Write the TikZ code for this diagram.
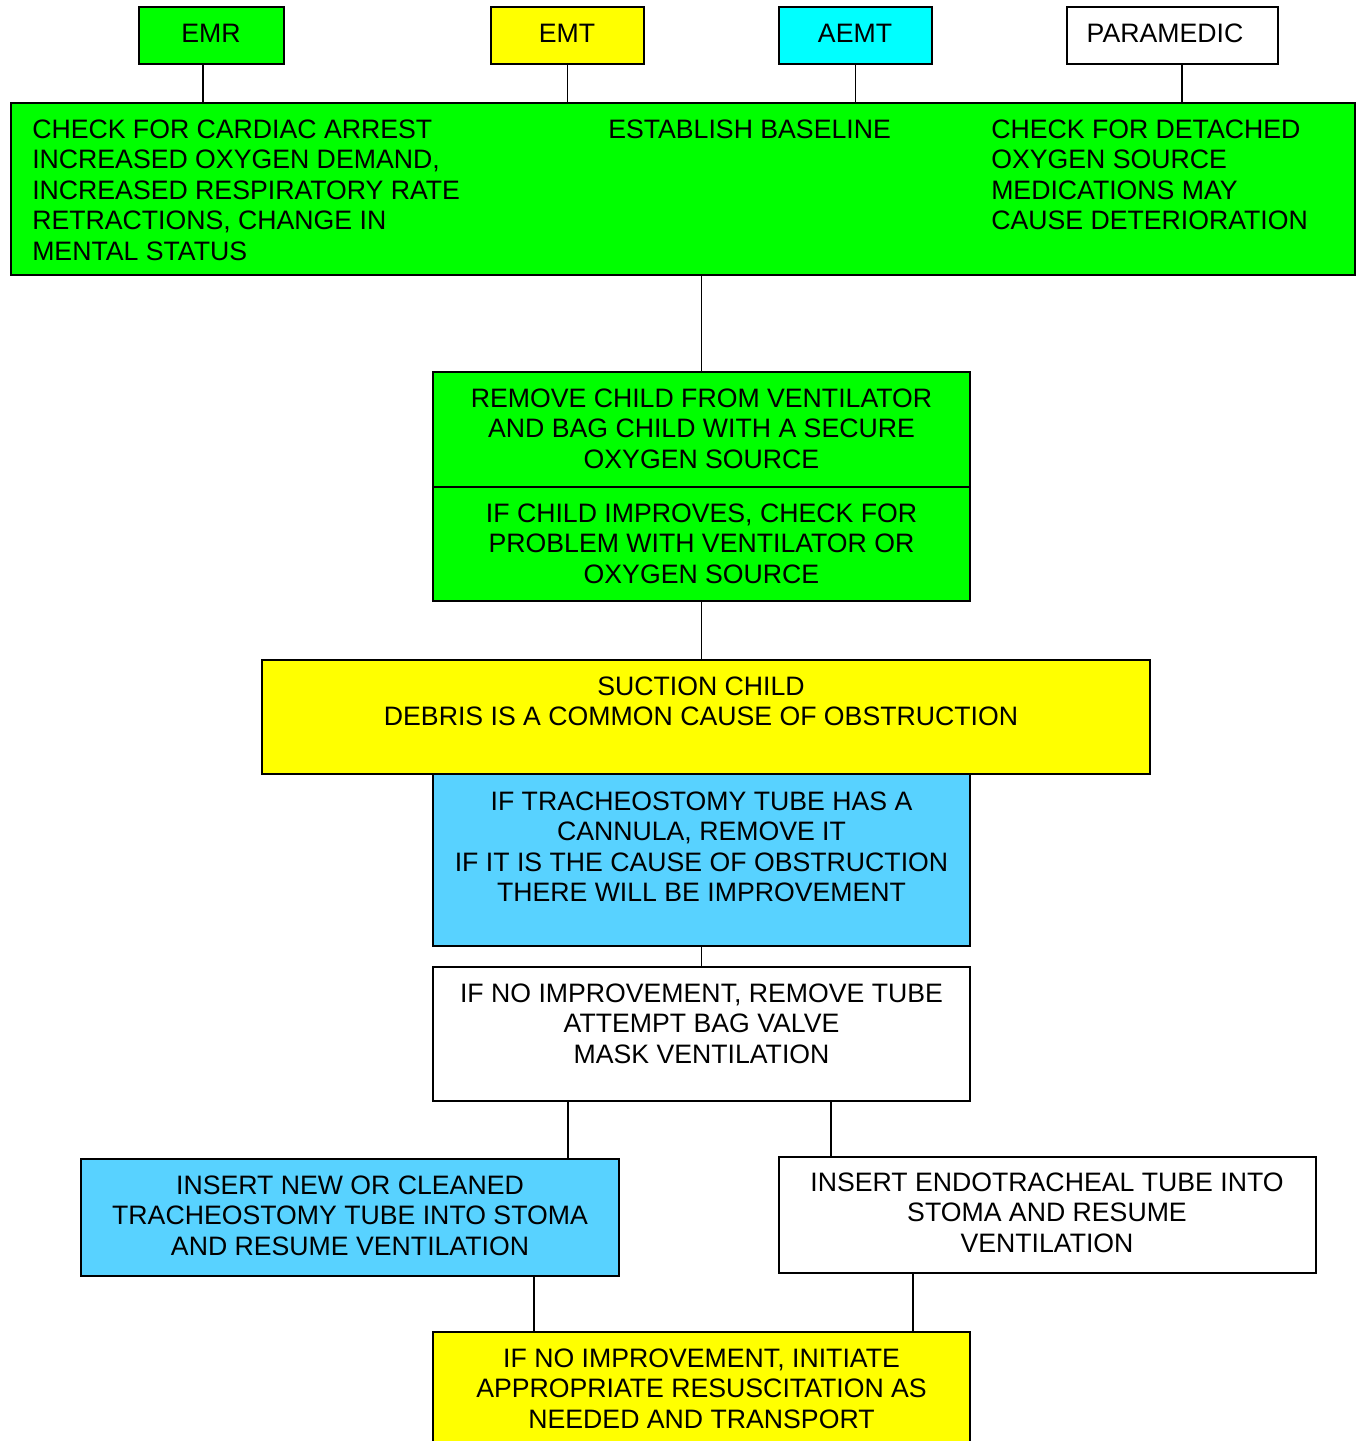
\documentclass[tikz,border=0pt]{standalone}
\usepackage{fontspec}
\setmainfont{Liberation Sans}
\usepackage{tikz}
\usetikzlibrary{fit}
\newcommand{\flowfont}{\fontsize{20.0}{22.9}\selectfont}
\newcommand{\boxrule}{1.2pt}
\newcommand{\linkrule}{0.9pt}
\definecolor{emrgreen}{RGB}{0,255,0}
\definecolor{emtyellow}{RGB}{255,255,0}
\definecolor{aemtcyan}{RGB}{0,255,255}
\definecolor{trachblue}{RGB}{88,210,255}

\begin{document}
\begin{tikzpicture}[x=0.75pt,y=-0.75pt,
  box/.style={draw=black, line width=\boxrule, inner sep=0pt},
  txt/.style={font=\flowfont, inner sep=0pt, align=center},
  link/.style={draw=black, line width=\linkrule}]

\useasboundingbox (0,0) rectangle (1358,1441);
\clip (0,0) rectangle (1358,1441);

\coordinate (emrdrop) at (203,0);
\coordinate (paradrop) at (1182,0);
\coordinate (leftdrop) at (568,0);
\coordinate (rightdrop) at (831,0);
\coordinate (lowleft) at (534,0);
\coordinate (lowright) at (913,0);

\node[box, fill=emrgreen, fit={(139,7) (284,64)}] (emr) {};
\node[box, fill=emtyellow, fit={(491,7) (644,64)}] (emt) {};
\node[box, fill=aemtcyan, fit={(779,7) (932,64)}] (aemt) {};
\node[box, fill=white, fit={(1067,7) (1278,64)}] (para) {};
\node[txt] (emrtxt) at (211,33) {EMR};
\node[txt] (emttxt) at (567,33) {EMT};
\node[txt] (aemttxt) at (855,33) {AEMT};
\node[txt] (paratxt) at (1165,33) {PARAMEDIC};

\node[box, fill=emrgreen, fit={(11,103) (1355,275)}] (assess) {};
\node[txt, align=left, anchor=north west] (emrnote) at (32,119.5) {CHECK FOR CARDIAC ARREST\\INCREASED OXYGEN DEMAND,\\INCREASED RESPIRATORY RATE\\RETRACTIONS, CHANGE IN\\MENTAL STATUS};
\node[txt, anchor=north west] (emtnote) at (608,119.5) {ESTABLISH BASELINE};
\node[txt, align=left, anchor=north west] (paranote) at (991,119.5) {CHECK FOR DETACHED\\OXYGEN SOURCE\\MEDICATIONS MAY\\CAUSE DETERIORATION};

\draw[link] (emr.south -| emrdrop) -- (assess.north -| emrdrop);
\draw[link] (emt.south) -- (emt.south |- assess.north);
\draw[link] (aemt.south) -- (aemt.south |- assess.north);
\draw[link] (para.south -| paradrop) -- (assess.north -| paradrop);

\node[box, fill=emrgreen, fit={(433,372) (970,487)}] (remove) {};
\node[txt, anchor=north] (removetxt) at (701.5,388.5) {REMOVE CHILD FROM VENTILATOR\\AND BAG CHILD WITH A SECURE\\OXYGEN SOURCE};
\node[box, fill=emrgreen, fit={(433,487) (970,601)}] (improve) {};
\node[txt, anchor=north] (improvetxt) at (701.5,503.5) {IF CHILD IMPROVES, CHECK FOR\\PROBLEM WITH VENTILATOR OR\\OXYGEN SOURCE};
\draw[link] (remove.north |- assess.south) -- (remove.north);

\node[box, fill=emtyellow, fit={(262,660) (1150,774)}] (suction) {};
\node[txt, anchor=north] (suctiontxt) at (701,676.5) {SUCTION CHILD\\DEBRIS IS A COMMON CAUSE OF OBSTRUCTION};
\draw[link] (improve.south) -- (improve.south |- suction.north);

\node[box, fill=trachblue, fit={(433,774) (970,946)}] (cannula) {};
\node[txt, anchor=north] (cannulatxt) at (701.5,791.5) {IF TRACHEOSTOMY TUBE HAS A\\CANNULA, REMOVE IT\\IF IT IS THE CAUSE OF OBSTRUCTION\\THERE WILL BE IMPROVEMENT};

\node[box, fill=white, fit={(433,967) (970,1101)}] (noimp) {};
\node[txt, anchor=north] (noimptxt) at (701.5,983.5) {IF NO IMPROVEMENT, REMOVE TUBE\\ATTEMPT BAG VALVE\\MASK VENTILATION};
\draw[link] (cannula.south) -- (noimp.north);

\node[box, fill=trachblue, fit={(81,1159) (619,1276)}] (newtube) {};
\node[txt, anchor=north] (newtubetxt) at (350,1175.5) {INSERT NEW OR CLEANED\\TRACHEOSTOMY TUBE INTO STOMA\\AND RESUME VENTILATION};
\node[box, fill=white, fit={(779,1157) (1316,1273)}] (ett) {};
\node[txt, anchor=north] (etttxt) at (1047,1172.5) {INSERT ENDOTRACHEAL TUBE INTO\\STOMA AND RESUME\\VENTILATION};
\draw[link] (noimp.south -| leftdrop) -- (newtube.north -| leftdrop);
\draw[link] (noimp.south -| rightdrop) -- (ett.north -| rightdrop);

\node[box, fill=emtyellow, fit={(433,1332) (970,1470)}] (final) {};
\node[txt, anchor=north] (finaltxt) at (701.5,1348.5) {IF NO IMPROVEMENT, INITIATE\\APPROPRIATE RESUSCITATION AS\\NEEDED AND TRANSPORT};
\draw[link] (newtube.south -| lowleft) -- (final.north -| lowleft);
\draw[link] (ett.south -| lowright) -- (final.north -| lowright);
\end{tikzpicture}
\end{document}
